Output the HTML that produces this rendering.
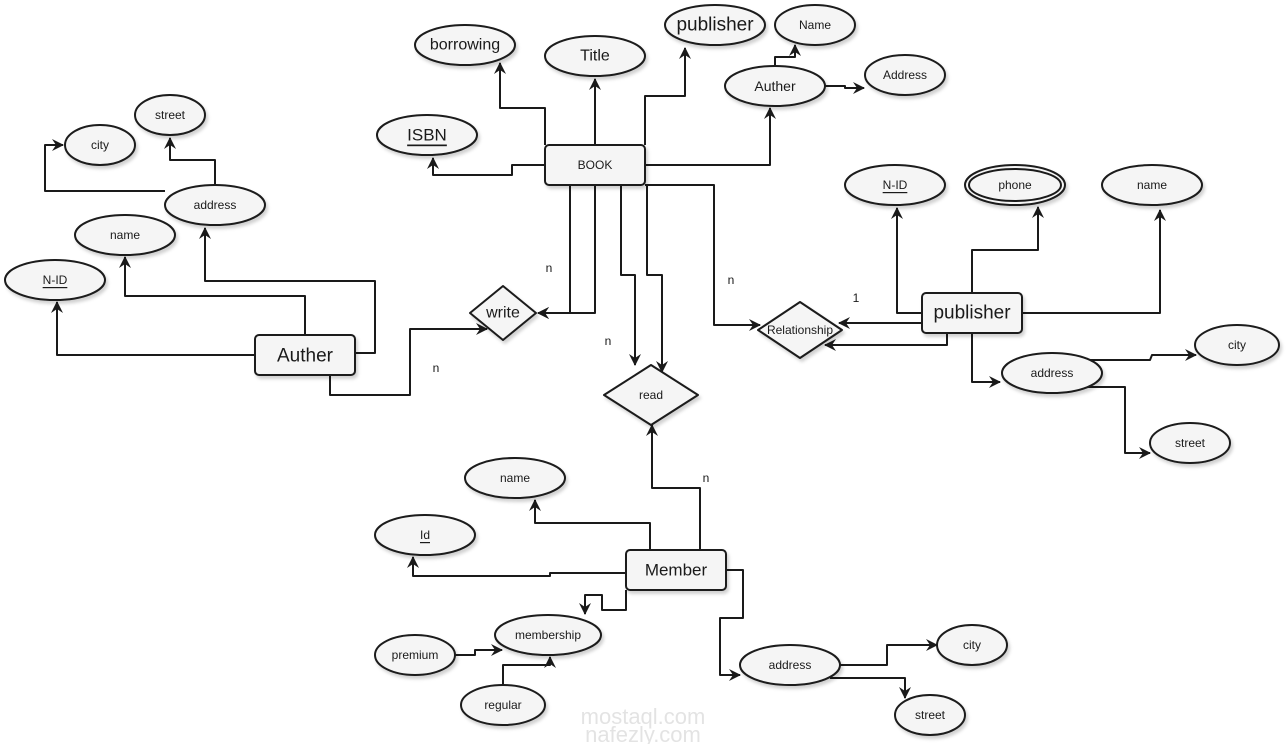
<!DOCTYPE html>
<html><head><meta charset="utf-8"><style>
html,body{margin:0;padding:0;background:#fff;}
svg{display:block;font-family:"Liberation Sans",Arial,sans-serif;}
</style></head><body>
<svg width="1287" height="744" viewBox="0 0 1287 744" xmlns="http://www.w3.org/2000/svg">
<defs>
<marker id="a" markerWidth="14" markerHeight="14" refX="11" refY="6" orient="auto" markerUnits="userSpaceOnUse">
<path d="M0,0 L12,6 L0,12 L4,6 z" fill="#1a1a1a"/></marker>
<filter id="s" x="-20%" y="-20%" width="150%" height="160%"><feDropShadow dx="2" dy="3" stdDeviation="1.5" flood-color="#000" flood-opacity="0.18"/></filter>
</defs>
<g fill="none" stroke="#1a1a1a" stroke-width="2" stroke-linejoin="round">
<polyline points="545,145 545,108 500,108 500,63" marker-end="url(#a)"/>
<polyline points="595,145 595,79" marker-end="url(#a)"/>
<polyline points="645,145 645,96 685,96 685,48" marker-end="url(#a)"/>
<polyline points="645,165 770,165 770,108" marker-end="url(#a)"/>
<polyline points="775,65 775,57 795,57 795,45" marker-end="url(#a)"/>
<polyline points="825,86 845,86 845,88 864,88" marker-end="url(#a)"/>
<polyline points="545,165 512,165 512,175 433,175 433,158" marker-end="url(#a)"/>
<polyline points="570,185 570,313 538,313" marker-end="url(#a)"/>
<polyline points="595,185 595,313 538,313" marker-end="url(#a)"/>
<polyline points="621,185 621,275 635,275 635,365" marker-end="url(#a)"/>
<polyline points="647,185 647,275 662,275 662,372" marker-end="url(#a)"/>
<polyline points="645,185 714,185 714,325 760,325" marker-end="url(#a)"/>
<polyline points="922,313 897,313 897,208" marker-end="url(#a)"/>
<polyline points="972,293 972,250 1038,250 1038,207" marker-end="url(#a)"/>
<polyline points="1022,313 1160,313 1160,210" marker-end="url(#a)"/>
<polyline points="922,323 839,323" marker-end="url(#a)"/>
<polyline points="947,333 947,345 825,345" marker-end="url(#a)"/>
<polyline points="972,333 972,382 1000,382" marker-end="url(#a)"/>
<polyline points="1085,360 1150,360 1152,355 1196,355" marker-end="url(#a)"/>
<polyline points="1085,387 1125,387 1125,453 1150,453" marker-end="url(#a)"/>
<polyline points="255,355 57,355 57,302" marker-end="url(#a)"/>
<polyline points="305,335 305,296 125,296 125,257" marker-end="url(#a)"/>
<polyline points="355,353 375,353 375,281 205,281 205,228" marker-end="url(#a)"/>
<polyline points="215,185 215,160 170,160 170,138" marker-end="url(#a)"/>
<polyline points="165,191 45,191 45,145 63,145" marker-end="url(#a)"/>
<polyline points="330,375 330,395 410,395 410,329 487,329" marker-end="url(#a)"/>
<polyline points="700,550 700,488 652,488 652,425" marker-end="url(#a)"/>
<polyline points="650,550 650,523 535,523 535,500" marker-end="url(#a)"/>
<polyline points="626,573 550,573 550,576 413,576 413,557" marker-end="url(#a)"/>
<polyline points="626,590 626,610 602,610 602,595 585,595 585,614" marker-end="url(#a)"/>
<polyline points="726,570 743,570 743,618 720,618 720,675 740,675" marker-end="url(#a)"/>
<polyline points="455,655 475,655 475,650 502,650" marker-end="url(#a)"/>
<polyline points="503,685 503,665 550,665 550,657" marker-end="url(#a)"/>
<polyline points="840,665 887,665 887,645 937,645" marker-end="url(#a)"/>
<polyline points="830,678 905,678 905,698" marker-end="url(#a)"/>
</g>
<g fill="#f5f5f5" stroke="#1a1a1a" stroke-width="2" filter="url(#s)">
<ellipse cx="465" cy="45" rx="50" ry="20"/>
<ellipse cx="595" cy="56" rx="50" ry="20"/>
<ellipse cx="715" cy="25" rx="50" ry="20"/>
<ellipse cx="815" cy="25" rx="40" ry="20"/>
<ellipse cx="775" cy="86" rx="50" ry="20"/>
<ellipse cx="905" cy="75" rx="40" ry="20"/>
<ellipse cx="427" cy="135" rx="50" ry="20"/>
<ellipse cx="170" cy="115" rx="35" ry="20"/>
<ellipse cx="100" cy="145" rx="35" ry="20"/>
<ellipse cx="215" cy="205" rx="50" ry="20"/>
<ellipse cx="125" cy="235" rx="50" ry="20"/>
<ellipse cx="55" cy="280" rx="50" ry="20"/>
<ellipse cx="895" cy="185" rx="50" ry="20"/>
<ellipse cx="1015" cy="185" rx="50" ry="20"/>
<ellipse cx="1152" cy="185" rx="50" ry="20"/>
<ellipse cx="1237" cy="345" rx="42" ry="20"/>
<ellipse cx="1052" cy="373" rx="50" ry="20"/>
<ellipse cx="1190" cy="443" rx="40" ry="20"/>
<ellipse cx="515" cy="478" rx="50" ry="20"/>
<ellipse cx="425" cy="535" rx="50" ry="20"/>
<ellipse cx="548" cy="635" rx="53" ry="20"/>
<ellipse cx="415" cy="655" rx="40" ry="20"/>
<ellipse cx="503" cy="705" rx="42" ry="20"/>
<ellipse cx="790" cy="665" rx="50" ry="20"/>
<ellipse cx="972" cy="645" rx="35" ry="20"/>
<ellipse cx="930" cy="715" rx="35" ry="20"/>
<rect x="545" y="145" width="100" height="40" rx="4"/>
<rect x="255" y="335" width="100" height="40" rx="4"/>
<rect x="922" y="293" width="100" height="40" rx="4"/>
<rect x="626" y="550" width="100" height="40" rx="4"/>
<path d="M503,286 L536,313 L503,340 L470,313 Z" stroke-linejoin="round"/>
<path d="M651,365 L698,395 L651,425 L604,395 Z" stroke-linejoin="round"/>
<path d="M800,302 L842,330 L800,358 L758,330 Z" stroke-linejoin="round"/>
</g>
<ellipse cx="1015" cy="185" rx="46" ry="16" fill="none" stroke="#1a1a1a" stroke-width="2"/>
<g fill="#1a1a1a" text-anchor="middle" dominant-baseline="central">
<text x="465" y="45" font-size="16">borrowing</text>
<text x="595" y="56" font-size="16">Title</text>
<text x="715" y="25" font-size="19">publisher</text>
<text x="815" y="25" font-size="12">Name</text>
<text x="775" y="86" font-size="14">Auther</text>
<text x="905" y="75" font-size="12">Address</text>
<text x="427" y="135" font-size="17" text-decoration="underline">ISBN</text>
<text x="170" y="115" font-size="12">street</text>
<text x="100" y="145" font-size="12">city</text>
<text x="215" y="205" font-size="12">address</text>
<text x="125" y="235" font-size="12">name</text>
<text x="55" y="280" font-size="12" text-decoration="underline">N-ID</text>
<text x="895" y="185" font-size="12" text-decoration="underline">N-ID</text>
<text x="1015" y="185" font-size="12">phone</text>
<text x="1152" y="185" font-size="12">name</text>
<text x="1237" y="345" font-size="12">city</text>
<text x="1052" y="373" font-size="12">address</text>
<text x="1190" y="443" font-size="12">street</text>
<text x="515" y="478" font-size="12">name</text>
<text x="425" y="535" font-size="12" text-decoration="underline">Id</text>
<text x="548" y="635" font-size="12">membership</text>
<text x="415" y="655" font-size="12">premium</text>
<text x="503" y="705" font-size="12">regular</text>
<text x="790" y="665" font-size="12">address</text>
<text x="972" y="645" font-size="12">city</text>
<text x="930" y="715" font-size="12">street</text>
<text x="595" y="165" font-size="12">BOOK</text>
<text x="305" y="356" font-size="19">Auther</text>
<text x="972" y="313" font-size="19">publisher</text>
<text x="676" y="570" font-size="17">Member</text>
<text x="503" y="313" font-size="16">write</text>
<text x="651" y="395" font-size="12">read</text>
<text x="800" y="330" font-size="12">Relationship</text>
<text x="549" y="268" font-size="12">n</text>
<text x="608" y="341" font-size="12">n</text>
<text x="436" y="368" font-size="12">n</text>
<text x="731" y="280" font-size="12">n</text>
<text x="856" y="298" font-size="12">1</text>
<text x="706" y="478" font-size="12">n</text>
</g>
<g fill="#d8d8d8" text-anchor="middle" opacity="0.7">
<text x="643" y="724" font-size="22">mostaql.com</text>
<text x="643" y="742" font-size="22">nafezly.com</text>
</g>
</svg>
</body></html>
